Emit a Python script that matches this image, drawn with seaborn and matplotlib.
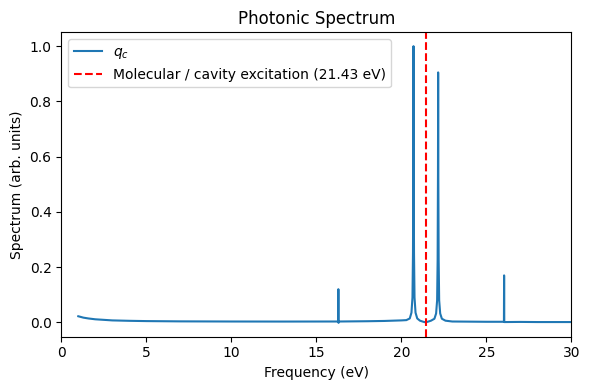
import pandas as pd
import matplotlib
matplotlib.use("Agg")
import matplotlib.pyplot as plt
import seaborn as sns

# photon spectrum (eV, arb. units)
frequency = [1.0, 1.3, 1.6, 2.0, 2.5, 3.0, 4.0, 5.0, 7.0, 10.0, 13.0, 16.0,
             16.29, 16.30, 16.31, 16.34, 18.0, 19.0, 19.5, 20.0, 20.3, 20.5,
             20.6, 20.66, 20.69, 20.71, 20.72, 20.73, 20.75, 20.78, 20.84, 20.94,
             21.1, 21.3, 21.43, 21.55, 21.75, 21.95, 22.05, 22.11, 22.14, 22.16,
             22.17, 22.18, 22.20, 22.23, 22.29, 22.39, 22.6, 23.0, 24.0, 25.0,
             26.04, 26.05, 26.06, 27.0, 28.0, 30.0]
spectrum = [0.022, 0.017, 0.014, 0.011, 0.009, 0.007, 0.0055, 0.0045, 0.0035, 0.003, 0.0028, 0.003,
            0.003, 0.12, -0.002, 0.003, 0.004, 0.005, 0.006, 0.007, 0.008, 0.014,
            0.035, 0.09, 0.25, 0.6, 1.0, 0.6, 0.25, 0.09, 0.035, 0.014,
            0.006, 0.002, 0.0, 0.002, 0.006, 0.013, 0.032, 0.08, 0.225, 0.54,
            0.905, 0.54, 0.225, 0.08, 0.032, 0.013, 0.006, 0.003, 0.0025, 0.002,
            0.002, 0.17, 0.001, 0.0015, 0.001, 0.001]
excitation = 21.43

df = pd.DataFrame({"freq": frequency, "spec": spectrum})

fig, ax = plt.subplots(figsize=(6, 4), dpi=100)
sns.lineplot(data=df, x="freq", y="spec", ax=ax, label=r"$q_c$", color="#1f77b4", linewidth=1.5)
ax.axvline(excitation, color="red", linestyle="--", linewidth=1.5,
           label=f"Molecular / cavity excitation ({excitation:.2f} eV)")

ax.set_xlim(0, 30)
ax.set_title("Photonic Spectrum")
ax.set_xlabel("Frequency (eV)")
ax.set_ylabel("Spectrum (arb. units)")
ax.legend(loc="upper left")

plt.tight_layout()
plt.savefig("out.png", dpi=100, bbox_inches="tight")
